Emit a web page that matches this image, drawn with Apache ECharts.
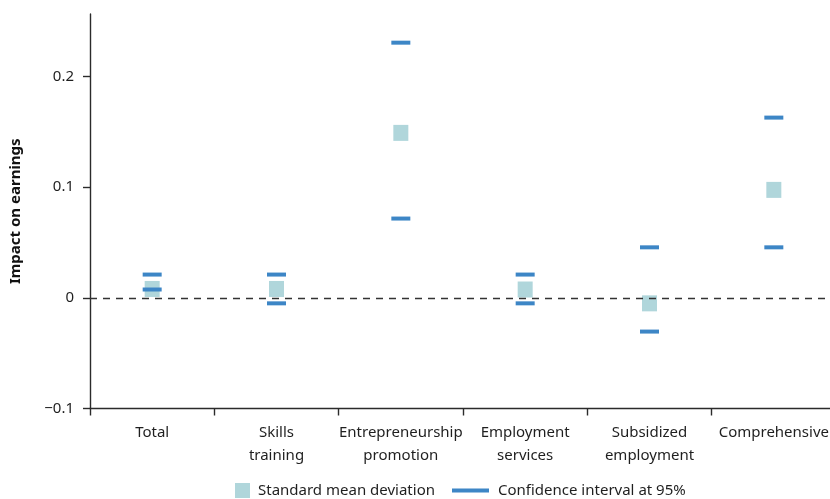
<!DOCTYPE html>
<html>
<head>
<meta charset="utf-8">
<script src="https://cdn.jsdelivr.net/npm/echarts@6/dist/echarts.min.js"></script>
<style>
  html, body { margin: 0; padding: 0; background: #fff; }
  #ImpactChart { width: 830px; height: 499px; }
</style>
</head>
<body>
<div id="ImpactChart"></div>
<script>
var myChart = echarts.init(document.getElementById('ImpactChart'));

// 数据
var categories = ['Total', 'Skills\ntraining', 'Entrepreneurship\npromotion', 'Employment\nservices', 'Subsidized\nemployment', 'Comprehensive'];
var meanValues = [0.008, 0.008, 0.149, 0.0075, -0.005, 0.0975];
var ciLower = [0.0075, -0.005, 0.0716, -0.005, -0.0305, 0.0456];
var ciUpper = [0.021, 0.021, 0.2305, 0.021, 0.0456, 0.1628];
var yTicks = [-0.1, 0, 0.1, 0.2];
var refLine = 0.004;

var fontName = 'Noto Sans';
var textColor = '#1f1f1f';
var axisColor = '#2b2b2b';
var meanColor = '#b0d6db';
var ciColor = '#3d86c6';

var ciData = [];
for (var i = 0; i < categories.length; i++) {
    ciData.push([i, ciLower[i]]);
    ciData.push([i, ciUpper[i]]);
}

var option = {
    animation: false,
    textStyle: { fontFamily: fontName },
    grid: {
        left: 90,
        width: 746,   // 最右边超出画布
        top: 14,
        bottom: 90.5,
        containLabel: false,
        outerBoundsMode: 'none'
    },
    legend: [
        {
            data: [{ name: 'Standard mean deviation', icon: 'rect' }],
            left: 235,
            top: 483,
            padding: 0,
            itemWidth: 15,
            itemHeight: 15,
            selectedMode: false,
            textStyle: { color: textColor, fontSize: 15, fontFamily: fontName, padding: [0, 0, 0, 3] }
        },
        {
            data: [{ name: 'Confidence interval at 95%', icon: 'rect' }],
            left: 452,
            top: 483,
            padding: 0,
            itemWidth: 37,
            itemHeight: 4,
            selectedMode: false,
            textStyle: { color: textColor, fontSize: 15, fontFamily: fontName, padding: [0, 0, 0, 4] }
        }
    ],
    xAxis: {
        type: 'category',
        data: categories,
        boundaryGap: true,
        axisLine: {
            onZero: false,
            lineStyle: { color: axisColor, width: 1.4 }
        },
        axisTick: {
            show: true,
            length: 7,
            alignWithLabel: false,
            lineStyle: { color: axisColor, width: 1.4 }
        },
        axisLabel: {
            interval: 0,
            color: textColor,
            fontSize: 15,
            fontFamily: fontName,
            lineHeight: 23,
            margin: 13
        },
        splitLine: { show: false }
    },
    yAxis: {
        type: 'value',
        min: -0.1,
        max: 0.2564,
        name: 'Impact on earnings',
        nameLocation: 'middle',
        nameGap: 67,
        nameTextStyle: {
            color: '#111',
            fontSize: 15,
            fontWeight: 'bold',
            fontFamily: fontName
        },
        axisLine: {
            show: true,
            lineStyle: { color: axisColor, width: 1.4 }
        },
        axisTick: {
            show: true,
            length: 7,
            customValues: yTicks,
            lineStyle: { color: axisColor, width: 1.4 }
        },
        axisLabel: {
            customValues: yTicks,
            color: textColor,
            fontSize: 15,
            fontFamily: fontName,
            margin: 16,
            formatter: function (v) {
                if (Math.abs(v) < 1e-9) return '0';
                return (v < 0 ? '\u2212' : '') + Math.abs(v).toFixed(1);
            }
        },
        splitLine: { show: false }
    },
    series: [
        {
            name: 'ref',
            type: 'scatter',
            data: [],
            z: 1,
            markLine: {
                silent: true,
                symbol: ['none', 'none'],
                label: { show: false },
                lineStyle: { color: '#333', width: 1.4, type: [7, 6] },
                data: [{ yAxis: refLine }]
            }
        },
        {
            name: 'Standard mean deviation',
            type: 'scatter',
            symbol: 'rect',
            symbolSize: [15, 16],
            itemStyle: { color: meanColor, opacity: 1 },
            z: 2,
            data: meanValues
        },
        {
            name: 'Confidence interval at 95%',
            type: 'scatter',
            symbol: 'rect',
            symbolSize: [19, 4],
            itemStyle: { color: ciColor, opacity: 1 },
            z: 3,
            data: ciData
        }
    ]
};
myChart.setOption(option);
</script>
</body>
</html>
